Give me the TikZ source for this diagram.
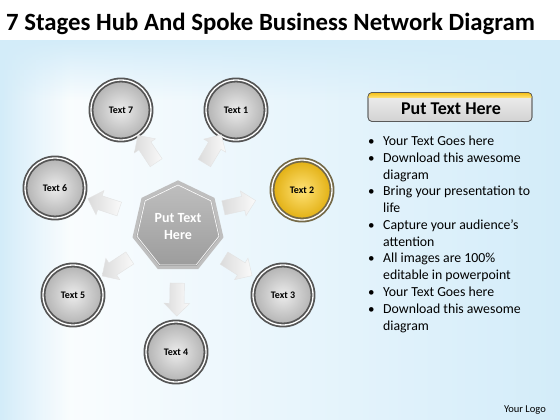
\documentclass[tikz,border=0pt]{standalone}
\usepackage{fontspec}
\setmainfont{Carlito}
\usetikzlibrary{shapes.geometric,shapes.arrows,calc,fadings}
\definecolor{bgblue}{HTML}{D3ECF9}
\definecolor{ringdark}{HTML}{555555}
\definecolor{gold}{HTML}{F5BE12}
\definecolor{goldlight}{HTML}{FFE275}
\begin{document}
\begin{tikzpicture}[x=1pt,y=-1pt,
  ball/.style={circle,minimum size=60pt,inner sep=0pt,font=\bfseries\fontsize{10}{12}\selectfont,
    inner color=gray!15,outer color=gray!60,draw=ringdark,line width=1.8pt,
    double=white,double distance=1.3pt},
  goldball/.style={ball,inner color=goldlight,outer color=gold!92!black,draw=ringdark!80!gold},
  spoke/.style={single arrow,minimum height=33pt,minimum width=25pt,single arrow head extend=5.5pt,
    inner xsep=0pt,inner ysep=7pt,left color=gray!28,right color=gray!4,
    draw=gray!22,line width=0.4pt},
  bullettext/.style={anchor=base west,font=\fontsize{13.8}{16}\selectfont},
  dot/.style={anchor=base west,font=\fontsize{13}{15}\selectfont}]
\useasboundingbox (0,0) rectangle (560,420);
% background
\fill[left color=white,right color=bgblue] (0,40) rectangle (560,420);
\fill[bgblue,path fading=east] (0,40) rectangle (70,420);
\fill[bgblue,path fading=south] (0,40) rectangle (560,100);
\fill[white] (0,0) rectangle (560,40);
% title
\node[anchor=base west,font=\bfseries\fontsize{24.8}{29}\selectfont,inner sep=0pt] (title) at (6,31) {7 Stages Hub And Spoke Business Network Diagram};
% hub
\node[regular polygon,regular polygon sides=7,minimum size=90pt,inner sep=0pt,
  top color=gray!50,bottom color=gray!78,draw=gray!50,line width=3pt,
  text=white,font=\bfseries\fontsize{14}{17}\selectfont,align=center] (hub) at (178,227) {Put Text\\Here};
\node[regular polygon,regular polygon sides=7,minimum size=84pt,inner sep=0pt,draw=white,line width=0.6pt] (hubin) at (178,227) {};
% stages
\node[ball] (c1) at (236,110) {Text 1};
\node[goldball] (c2) at (302,190) {Text 2};
\node[ball] (c3) at (283,295) {Text 3};
\node[ball] (c4) at (176,352) {Text 4};
\node[ball] (c5) at (73,295) {Text 5};
\node[ball] (c6) at (55,188) {Text 6};
\node[ball] (c7) at (121,110) {Text 7};
% spokes
\foreach \cc/\px/\py in {c1/211/152,c2/236/205,c3/235/265,c4/177/296,c5/119/265,c6/107/205,c7/149/152}{
  \coordinate (p\cc) at (\px,\py);
  \path let \p1=($(\cc)-(p\cc)$), \n1={atan2(\y1,\x1)} in node[spoke,rotate=\n1] (s\cc) at (p\cc) {};
}
% button
\node[rounded corners=4pt,minimum width=164pt,minimum height=29pt,inner sep=0pt,
  top color=gray!12,bottom color=gray!35,draw=gray!70!black,line width=0.6pt] (btn) at (450,107) {};
\begin{scope}
\clip[rounded corners=4pt] (368,92.5) rectangle (532,121.5);
\fill[top color=gold,bottom color=goldlight] (368,92.5) rectangle (532,97.5);
\end{scope}
\draw[rounded corners=4pt,gray!70!black,line width=0.6pt] (368,92.5) rectangle (532,121.5);
\node[font=\bfseries\fontsize{18}{21}\selectfont,inner sep=0pt] (btntext) at (451,108.5) {Put Text Here};
% bullets
\foreach \t/\yy/\b [count=\i] in {Your Text Goes here/145/1,Download this awesome/162/1,diagram/179/0,
  Bring your presentation to/195.5/1,life/212/0,Capture your audience’s/229/1,attention/246/0,
  All images are 100\%/262.5/1,editable in powerpoint/279/0,Your Text Goes here/296/1,
  Download this awesome/313/1,diagram/330/0}{
  \node[bullettext,inner sep=0pt] (l\i) at (383,\yy) {\t};
  \ifnum\b=1 \node[dot,inner sep=0pt] (b\i) at (368,\yy) {•};\fi
}
\node[anchor=base east,font=\fontsize{10.5}{12}\selectfont,inner sep=0pt] (logo) at (546,412) {Your Logo};
\end{tikzpicture}
\end{document}
